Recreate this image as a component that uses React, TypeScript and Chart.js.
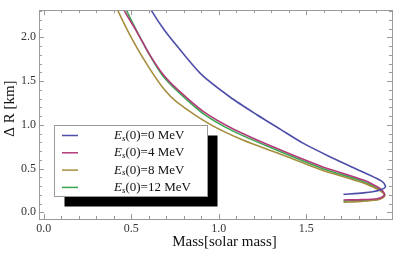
import React, { useEffect, useRef } from 'react';
import { Chart, registerables } from 'chart.js';

Chart.register(...registerables);

// Series: E_s(0) values (MeV)
const seriesEnergies = ['0', '4', '8', '12'];
const seriesColors = ['rgb(78,78,170)', 'rgb(178,58,122)', 'rgb(166,142,62)', 'rgb(58,168,82)'];

// Mass [solar mass] and ΔR [km]
const massE0 = [0.58, 0.614, 0.69, 0.77, 0.904, 1.066, 1.218, 1.351, 1.484, 1.62, 1.77, 1.904, 1.943, 1.952, 1.93, 1.88, 1.827, 1.713];
const drE0 = [2.45, 2.31, 2.08, 1.88, 1.57, 1.315, 1.115, 0.95, 0.787, 0.65, 0.51, 0.386, 0.335, 0.29, 0.26, 0.235, 0.222, 0.204];

const massE4 = [0.43, 0.456, 0.533, 0.609, 0.68, 0.761, 0.913, 1.085, 1.32, 1.58, 1.827, 1.917, 1.938, 1.947, 1.935, 1.904, 1.82, 1.713];
const drE4 = [2.45, 2.32, 2.06, 1.79, 1.58, 1.41, 1.15, 0.95, 0.74, 0.53, 0.368, 0.277, 0.24, 0.205, 0.175, 0.155, 0.145, 0.14];

const massE8 = [0.395, 0.42, 0.513, 0.609, 0.69, 0.761, 0.951, 1.141, 1.333, 1.58, 1.827, 1.91, 1.937, 1.95, 1.935, 1.904, 1.82, 1.713];
const drE8 = [2.45, 2.32, 1.95, 1.63, 1.40, 1.26, 1.005, 0.823, 0.68, 0.49, 0.335, 0.26, 0.225, 0.195, 0.163, 0.14, 0.125, 0.115];

const massE12 = [0.445, 0.47, 0.54, 0.613, 0.68, 0.761, 0.913, 1.085, 1.32, 1.58, 1.827, 1.915, 1.937, 1.948, 1.935, 1.904, 1.82, 1.713];
const drE12 = [2.45, 2.32, 2.04, 1.77, 1.56, 1.39, 1.125, 0.925, 0.72, 0.51, 0.35, 0.265, 0.23, 0.2, 0.17, 0.145, 0.133, 0.127];

const xTickLabels = [0, 0.5, 1.0, 1.5];
const yTickLabels = [0, 0.5, 1.0, 1.5, 2.0];
const xTitle = 'Mass[solar mass]';
const yTitle = 'Δ R [km]';

const SERIF = '"Liberation Serif", "DejaVu Serif", serif';

const framePlugin = {
  id: 'frameTicks',
  afterDraw(chart: any) {
    const { ctx, chartArea } = chart;
    const { left, right, top, bottom } = chartArea;
    const xs = chart.scales.x;
    const ys = chart.scales.y;
    ctx.save();
    ctx.strokeStyle = '#9a9a9a';
    ctx.lineWidth = 1;
    ctx.strokeRect(Math.round(left) + 0.5, Math.round(top) + 0.5, Math.round(right - left), Math.round(bottom - top));
    ctx.beginPath();
    for (let i = 0; i <= 40; i++) {
      const v = i / 10;
      const px = Math.round(xs.getPixelForValue(v)) + 0.5;
      if (px > left && px < right) {
        const len = i % 5 === 0 ? 5 : 3;
        ctx.moveTo(px, bottom);
        ctx.lineTo(px, bottom - len);
        ctx.moveTo(px, top);
        ctx.lineTo(px, top + len);
      }
      const py = Math.round(ys.getPixelForValue(v)) + 0.5;
      if (py > top && py < bottom) {
        const len = i % 5 === 0 ? 5 : 3;
        ctx.moveTo(left, py);
        ctx.lineTo(left + len, py);
        ctx.moveTo(right, py);
        ctx.lineTo(right - len, py);
      }
    }
    ctx.stroke();

    // axis titles
    ctx.fillStyle = '#111';
    ctx.font = `15px ${SERIF}`;
    ctx.textAlign = 'center';
    ctx.textBaseline = 'middle';
    ctx.fillText(xTitle, (left + right) / 2 + 9, 242);
    ctx.translate(10, (top + bottom) / 2 - 6);
    ctx.rotate(-Math.PI / 2);
    ctx.fillText(yTitle, 0, 0);
    ctx.restore();
  },
};

const legendPlugin = {
  id: 'shadowLegend',
  afterDatasetsDraw(chart: any) {
    const { ctx } = chart;
    const bx = 54, by = 125, bw = 153, bh = 71, off = 10.5;
    ctx.save();
    ctx.fillStyle = '#000';
    ctx.fillRect(bx + off, by + off, bw, bh);
    ctx.fillStyle = '#fff';
    ctx.fillRect(bx, by, bw, bh);
    ctx.strokeStyle = '#9a9a9a';
    ctx.lineWidth = 1;
    ctx.strokeRect(bx + 0.5, by + 0.5, bw, bh);
    chart.data.datasets.forEach((ds: any, i: number) => {
      const y = by + 10.5 + i * 17.3;
      ctx.strokeStyle = ds.borderColor;
      ctx.lineWidth = 1.5;
      ctx.beginPath();
      ctx.moveTo(bx + 8, y);
      ctx.lineTo(bx + 24, y);
      ctx.stroke();
      ctx.fillStyle = '#111';
      ctx.textBaseline = 'middle';
      let tx = bx + 60;
      ctx.font = `italic 13px ${SERIF}`;
      ctx.fillText('E', tx, y);
      tx += ctx.measureText('E').width;
      ctx.font = `italic 9px ${SERIF}`;
      ctx.fillText('s', tx, y + 3);
      tx += ctx.measureText('s').width;
      ctx.font = `13px ${SERIF}`;
      ctx.fillText(`(0)=${seriesEnergies[i]} MeV`, tx, y);
    });
    ctx.restore();
  },
};

export default function App() {
  const ref = useRef<HTMLCanvasElement | null>(null);
  useEffect(() => {
    if (!ref.current) return;
    const pairs = [
      [massE0, drE0],
      [massE4, drE4],
      [massE8, drE8],
      [massE12, drE12],
    ];
    const chart = new Chart(ref.current, {
      type: 'scatter',
      data: {
        datasets: pairs.map(([m, d], i) => ({
          label: `E_s(0)=${seriesEnergies[i]} MeV`,
          data: m.map((x, k) => ({ x, y: d[k] })),
          showLine: true,
          borderColor: seriesColors[i],
          backgroundColor: seriesColors[i],
          borderWidth: 1.6,
          pointRadius: 0,
          tension: 0.25,
        })),
      },
      options: {
        animation: false,
        responsive: false,
        layout: { padding: { top: 1, right: 17, left: 0, bottom: 0 } },
        plugins: { legend: { display: false }, tooltip: { enabled: false } },
        scales: {
          x: {
            type: 'linear',
            min: -0.027,
            max: 1.99,
            grid: { display: false, drawTicks: false },
            border: { display: false },
            afterBuildTicks: (s: any) => {
              s.ticks = xTickLabels.map((v) => ({ value: v }));
            },
            afterFit: (s: any) => {
              s.height = 36;
            },
            ticks: {
              padding: 3,
              color: '#333',
              font: { family: SERIF, size: 12 },
              callback: (v: any) => Number(v).toFixed(1),
            },
            title: { display: false, text: xTitle },
          },
          y: {
            type: 'linear',
            min: -0.077,
            max: 2.31,
            grid: { display: false, drawTicks: false },
            border: { display: false },
            afterBuildTicks: (s: any) => {
              s.ticks = yTickLabels.map((v) => ({ value: v }));
            },
            afterFit: (s: any) => {
              s.width = 39;
            },
            ticks: {
              padding: 3,
              color: '#333',
              font: { family: SERIF, size: 12 },
              callback: (v: any) => Number(v).toFixed(1),
            },
            title: { display: false, text: yTitle },
          },
        },
      },
      plugins: [legendPlugin, framePlugin],
    } as any);
    return () => chart.destroy();
  }, []);
  return (
    <div style={{ position: 'absolute', left: 0, top: 0, width: 409, height: 255, background: '#fff' }}>
      <canvas ref={ref} width={409} height={255} style={{ width: 409, height: 255 }} />
    </div>
  );
}
